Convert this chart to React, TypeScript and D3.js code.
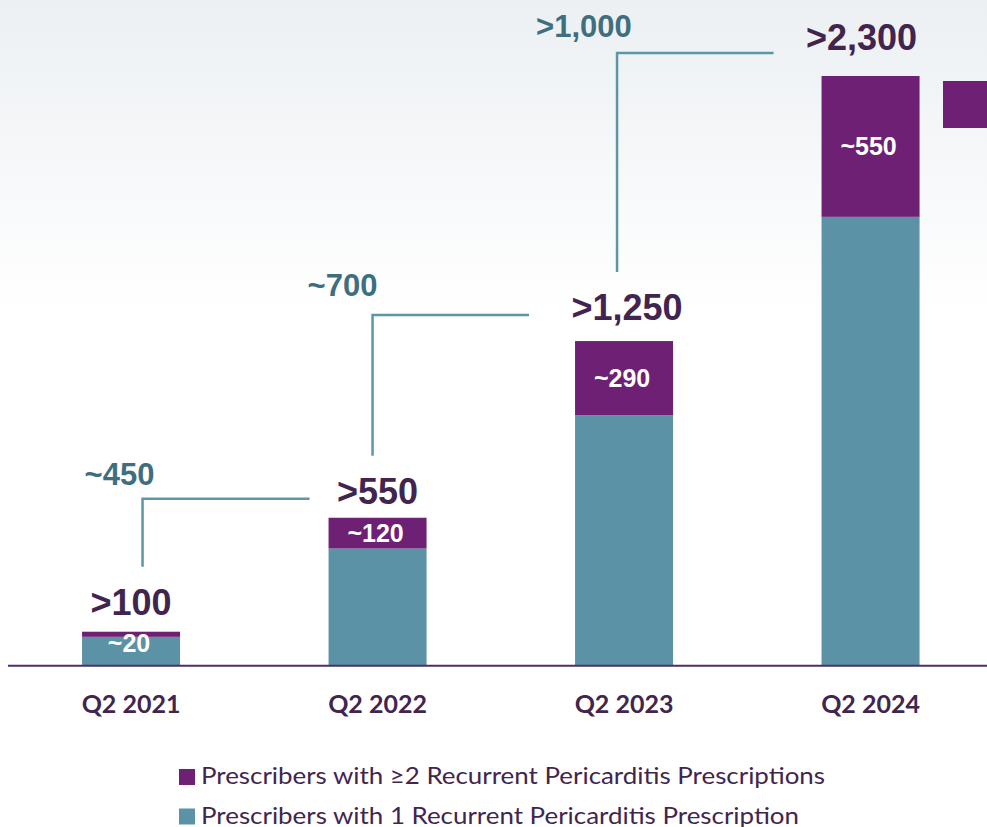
import React from "react";
import * as d3 from "d3";

// Prescriber counts by quarter
const quarters = ["Q2 2021", "Q2 2022", "Q2 2023", "Q2 2024"];
const totalPrescribers = [130, 575, 1265, 2300];
const multiRxPrescribers = [20, 120, 290, 550];
const totalLabels = [">100", ">550", ">1,250", ">2,300"];
const multiRxLabels = ["~20", "~120", "~290", "~550"];
const growthLabels = ["~450", "~700", ">1,000"];
const legendItems = [
  "Prescribers with \u22652 Recurrent Pericarditis Prescriptions",
  "Prescribers with 1 Recurrent Pericarditis Prescription",
];

const W = 987;
const H = 827;
const PURPLE = "#6e2174";
const TEAL = "#5b92a5";
const DARK = "#41254f";
const LINE_TEAL = "#5e96a8";
const LABEL_TEAL = "#3f6f7f";

export default function App() {
  const x = d3
    .scaleBand<string>()
    .domain(quarters)
    .range([7.8, 993.8])
    .paddingInner(0.6024)
    .paddingOuter(0.3012);
  const y = d3.scaleLinear().domain([0, 2300]).range([665, 76]);
  const bw = x.bandwidth();

  const stack = quarters.map((q, i) => ({
    q,
    total: totalPrescribers[i],
    multi: multiRxPrescribers[i],
    single: totalPrescribers[i] - multiRxPrescribers[i],
  }));

  // distance from bar top to the total label baseline
  const lift = [17, 14, 21, 26];
  const liftDx = [0, 0, 3, -9];

  // growth connectors between consecutive totals
  const connectorDx = [11.5, -5, -7];
  const connectors = growthLabels.map((lab, i) => {
    const cx = (x(quarters[i]) ?? 0) + bw / 2 + connectorDx[i];
    const y0 = y(totalPrescribers[i]) - lift[i] - 48;
    const nextBase = y(totalPrescribers[i + 1]) - lift[i + 1];
    const y1 = nextBase - (i === 2 ? -3 : 5);
    const nextLeft = (x(quarters[i + 1]) ?? 0) - [19, 46, 48][i];
    return { lab, cx, y0, y1, nextLeft };
  });

  return (
    <svg
      width={W}
      height={H}
      style={{ position: "absolute", left: 0, top: 0, display: "block" }}
      fontFamily="'Liberation Sans', Arial, sans-serif"
    >
      <defs>
        <linearGradient id="bg" x1="0" y1="0" x2="0" y2="1">
          <stop offset="0" stopColor="#ecf0f3" />
          <stop offset="0.38" stopColor="#ffffff" />
          <stop offset="1" stopColor="#ffffff" />
        </linearGradient>
      </defs>
      <rect x={0} y={0} width={W} height={H} fill="url(#bg)" />

      {/* connectors */}
      {connectors.map((c, i) => (
        <g key={c.lab}>
          <path
            d={`M${c.cx},${c.y0}V${c.y1}H${c.nextLeft}`}
            fill="none"
            stroke={LINE_TEAL}
            strokeWidth={2.5}
          />
          <text
            x={c.cx - [58, 65, 81][i]}
            y={c.y1 - [14, 19, 16][i]}
            fill={LABEL_TEAL}
            fontSize={31}
            fontWeight="bold"
          >
            {c.lab}
          </text>
        </g>
      ))}

      {/* bars */}
      {stack.map((d, i) => {
        const x0 = x(d.q) ?? 0;
        const yTop = y(d.total);
        const yMid = y(d.single);
        const segH = yMid - yTop;
        const cx = x0 + bw / 2;
        const innerY = segH < 20 ? yTop + 20 : (yTop + yMid) / 2 + 9;
        return (
          <g key={d.q}>
            <rect x={x0} y={yMid} width={bw} height={y(0) - yMid} fill={TEAL} />
            <rect x={x0} y={yTop} width={bw} height={segH} fill={PURPLE} />
            <text
              x={cx - 2}
              y={innerY}
              textAnchor="middle"
              fill="#ffffff"
              fontSize={25}
              fontWeight="bold"
            >
              {multiRxLabels[i]}
            </text>
            <text
              x={cx + liftDx[i]}
              y={yTop - lift[i]}
              textAnchor="middle"
              fill={DARK}
              fontSize={36}
              fontWeight="bold"
            >
              {totalLabels[i]}
            </text>
            <text
              x={cx}
              y={713}
              textAnchor="middle"
              fill={DARK}
              fontSize={25}
              fontWeight="bold"
              fontFamily="Lato, sans-serif"
            >
              {d.q}
            </text>
          </g>
        );
      })}

      {/* baseline */}
      <line x1={8} x2={W} y1={y(0) + 0.8} y2={y(0) + 0.8} stroke="#4b3060" strokeWidth={2} />

      {/* side marker */}
      <rect x={943} y={81} width={60} height={47} fill={PURPLE} />

      {/* legend */}
      {legendItems.map((t, i) => (
        <g key={t}>
          <rect x={179} y={769 + i * 39.5} width={16} height={16} fill={i === 0 ? PURPLE : TEAL} />
          <text
            x={201}
            y={784 + i * 39.5}
            fill={DARK}
            fontSize={23}
            fontFamily="Lato, sans-serif"
            textLength={i === 0 ? 624 : 598}
            lengthAdjust="spacingAndGlyphs"
          >
            {t}
          </text>
        </g>
      ))}
    </svg>
  );
}
